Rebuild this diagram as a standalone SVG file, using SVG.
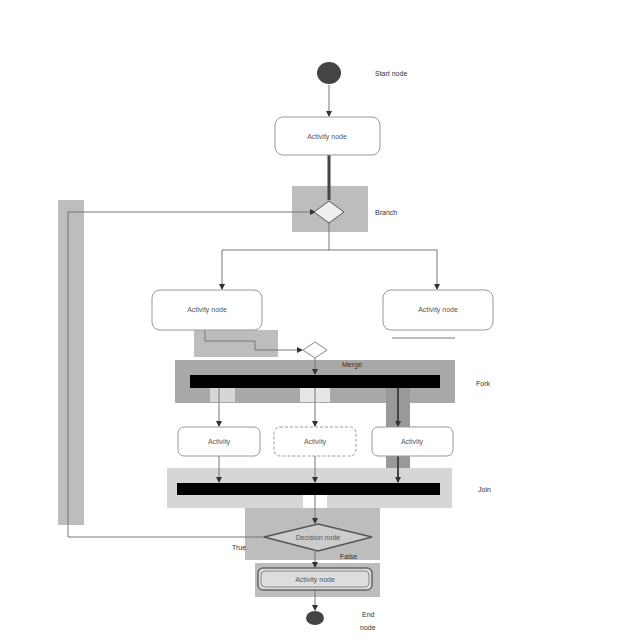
<svg xmlns="http://www.w3.org/2000/svg" width="640" height="640" viewBox="0 0 640 640">
<defs>
<style>
.hl{fill:#bdbdbd}
.hl2{fill:#d6d6d6}
.box{fill:#fff;stroke:#999;stroke-width:1}
.ln{fill:none;stroke:#777;stroke-width:1}
.thk{fill:none;stroke:#444;stroke-width:3}
.bar{fill:#000}
.t{font-family:"Liberation Sans",Arial,sans-serif;font-size:7px;fill:#333}
.tc{font-family:"Liberation Sans",Arial,sans-serif;font-size:7px;fill:#555;text-anchor:middle}
</style>
<marker id="ar" markerWidth="6" markerHeight="6" refX="5" refY="3" orient="auto" markerUnits="userSpaceOnUse">
<path d="M0,0 L6,3 L0,6 z" fill="#333"/>
</marker>
</defs>
<rect width="640" height="640" fill="#fff"/>
<g id="highlights">
<rect class="hl" x="292" y="186" width="76" height="46"/>
<rect class="hl" x="58" y="200" width="26" height="325"/>
<rect class="hl" x="194" y="330" width="84" height="27"/>
<rect fill="#a8a8a8" x="175" y="360" width="280" height="43"/>
<rect class="hl2" x="210" y="388" width="25" height="14"/>
<rect fill="#e6e6e6" x="300" y="388" width="30" height="14"/>
<rect fill="#999" x="386" y="388" width="24" height="39"/>
<rect fill="#999" x="386" y="456" width="24" height="30"/>
<rect class="hl2" x="167" y="468" width="285" height="40"/>
<rect fill="#fff" x="303" y="495" width="24" height="13"/>
<rect class="hl" x="245" y="508" width="135" height="52"/>
<rect class="hl" x="255" y="563" width="125" height="34"/>
</g>
<g id="connectors">
<line class="ln" x1="329" y1="85" x2="329" y2="116" marker-end="url(#ar)"/>
<line class="thk" x1="329" y1="155" x2="329" y2="200"/>
<line class="ln" x1="329" y1="223" x2="329" y2="250"/>
<line class="ln" x1="222" y1="250" x2="437" y2="250"/>
<line class="ln" x1="222" y1="250" x2="222" y2="289" marker-end="url(#ar)"/>
<line class="ln" x1="437" y1="250" x2="437" y2="289" marker-end="url(#ar)"/>
<polyline class="ln" points="205,330 205,341 255,341 255,350 302,350" stroke="#444" stroke-width="1.5" marker-end="url(#ar)"/>
<line class="ln" x1="392" y1="338" x2="455" y2="338"/>
<line class="ln" x1="315" y1="358" x2="315" y2="374" marker-end="url(#ar)"/>
<line class="ln" x1="219" y1="388" x2="219" y2="426" stroke="#444" marker-end="url(#ar)"/>
<line class="ln" x1="315" y1="388" x2="315" y2="426" marker-end="url(#ar)"/>
<line x1="398" y1="388" x2="398" y2="426" stroke="#444" stroke-width="2" marker-end="url(#ar)"/>
<line class="ln" x1="219" y1="456" x2="219" y2="482" stroke="#bbb" marker-end="url(#ar)"/>
<line class="ln" x1="315" y1="456" x2="315" y2="482" marker-end="url(#ar)"/>
<line x1="398" y1="456" x2="398" y2="482" stroke="#444" stroke-width="2" marker-end="url(#ar)"/>
<line class="ln" x1="315" y1="495" x2="315" y2="523" marker-end="url(#ar)"/>
<polyline class="ln" points="265,537 68,537 68,212 315,212" stroke="#888" stroke-width="1.5" marker-end="url(#ar)"/>
<line class="ln" x1="315" y1="551" x2="315" y2="567" stroke="#333" stroke-width="1.5" marker-end="url(#ar)"/>
<line class="ln" x1="315" y1="590" x2="315" y2="610" marker-end="url(#ar)"/>
</g>
<g id="start">
<ellipse cx="329" cy="73" rx="12" ry="11" fill="#444"/>
<text class="t" x="375" y="76">Start node</text>
</g>
<g id="act1">
<rect class="box" x="275" y="117" width="105" height="38" rx="8"/>
<text class="tc" x="327" y="139">Activity node</text>
</g>
<g id="branch">
<polygon points="329,201 344,212 329,223 314,212" fill="#eee" stroke="#555"/>
<text class="t" x="375" y="215">Branch</text>
</g>
<g id="act2">
<rect class="box" x="152" y="290" width="110" height="40" rx="8"/>
<text class="tc" x="207" y="312">Activity node</text>
</g>
<g id="act3">
<rect class="box" x="383" y="290" width="110" height="40" rx="8"/>
<text class="tc" x="438" y="312">Activity node</text>
</g>
<g id="merge">
<polygon points="315,342 327,350 315,358 303,350" fill="#fff" stroke="#888"/>
</g>
<g id="fork">
<rect class="bar" x="190" y="375" width="250" height="13"/>
<text class="t" x="342" y="367">Merge</text>
<text class="t" x="476" y="386">Fork</text>
</g>
<g id="act4">
<rect class="box" x="178" y="427" width="82" height="29" rx="6"/>
<text class="tc" x="219" y="444">Activity</text>
</g>
<g id="act5">
<rect class="box" x="274" y="427" width="82" height="29" rx="6" stroke="#ccc" stroke-dasharray="3,2"/>
<text class="tc" x="315" y="444" fill="#999">Activity</text>
</g>
<g id="act6">
<rect class="box" x="372" y="427" width="81" height="29" rx="6"/>
<text class="tc" x="412" y="444">Activity</text>
</g>
<g id="join">
<rect class="bar" x="177" y="483" width="263" height="12"/>
<text class="t" x="478" y="492">Join</text>
</g>
<g id="decision">
<polygon points="318,524 372,537 318,551 264,537" fill="#ccc" stroke="#555" stroke-width="1.5"/>
<text class="tc" x="318" y="540" fill="#333">Decision node</text>
<text class="t" x="232" y="550">True</text>
<text class="t" x="340" y="559">False</text>
</g>
<g id="act7">
<rect x="258" y="568" width="114" height="22" rx="5" fill="#ddd" stroke="#666" stroke-width="1.5"/>
<rect x="261" y="571" width="108" height="16" rx="4" fill="none" stroke="#888"/>
<text class="tc" x="315" y="582" fill="#333">Activity node</text>
</g>
<g id="end">
<ellipse cx="315" cy="618" rx="9" ry="7" fill="#444"/>
<text class="t" x="362" y="617">End</text>
<text class="t" x="360" y="630">node</text>
</g>
</svg>
